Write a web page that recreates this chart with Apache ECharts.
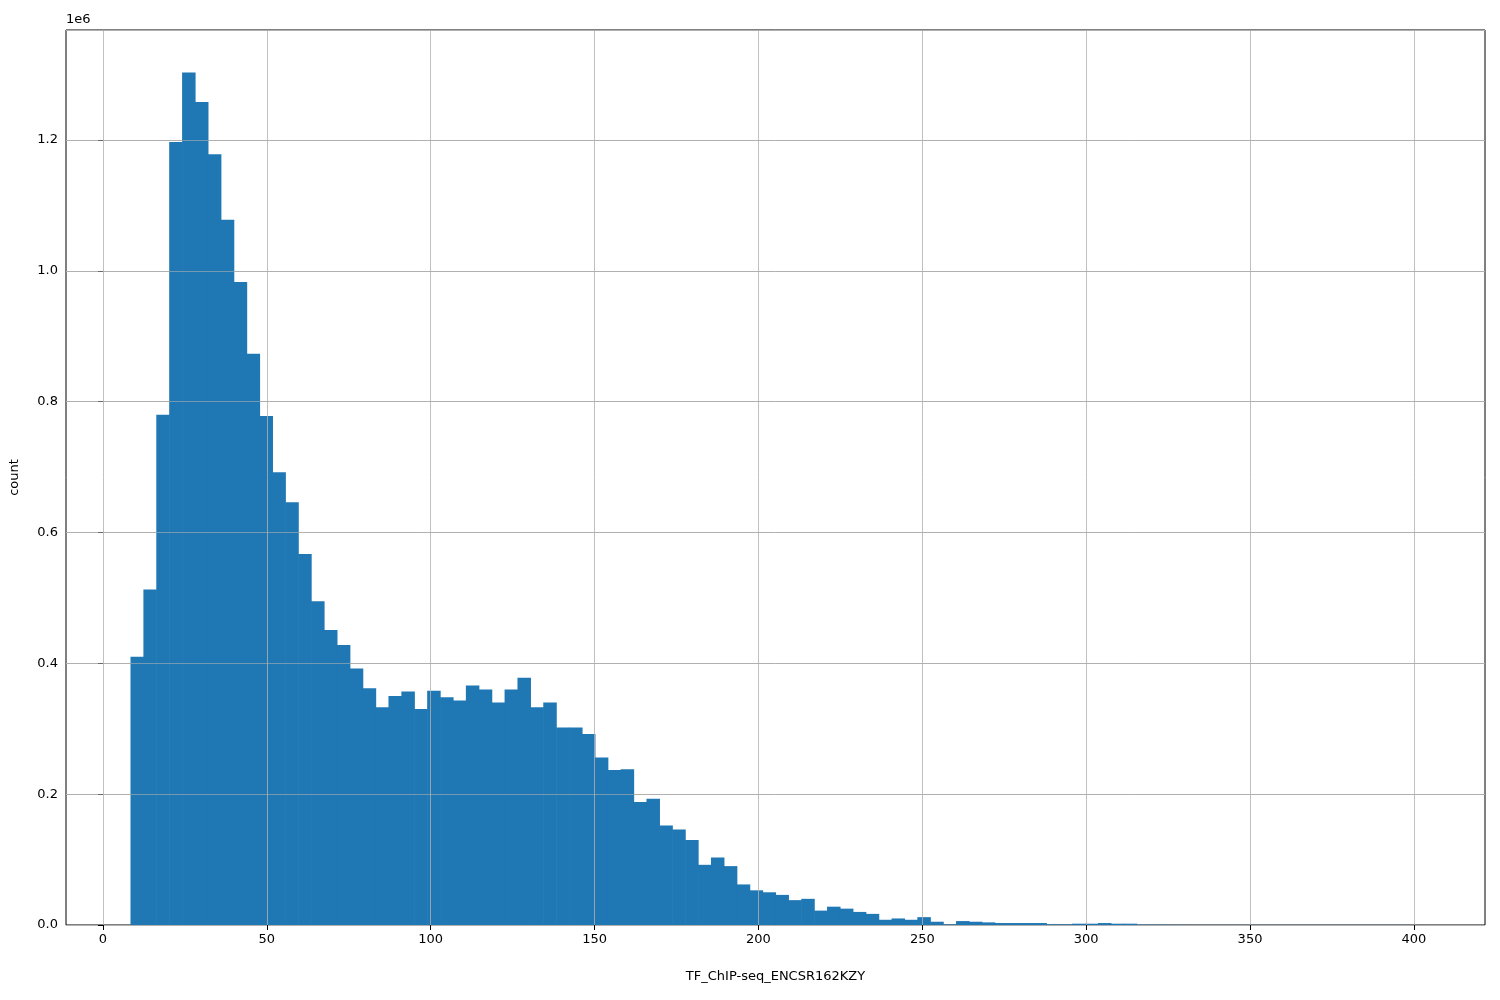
<!DOCTYPE html>
<html><head><meta charset="utf-8">
<script src="https://cdn.jsdelivr.net/npm/echarts@6/dist/echarts.min.js"></script>
<style>html,body{margin:0;padding:0;background:#fff}#c{width:1500px;height:1000px}</style>
</head><body><div id="c"></div>
<script>
const binStart = 8.39;
const binWidth = 3.936;
const counts = [0.41,0.513,0.78,1.197,1.303,1.258,1.178,1.078,0.983,0.873,
0.778,0.692,0.646,0.567,0.495,0.451,0.428,0.392,0.362,0.333,
0.350,0.357,0.330,0.358,0.348,0.343,0.366,0.360,0.340,0.360,
0.378,0.333,0.340,0.302,0.302,0.292,0.256,0.237,0.238,0.188,
0.193,0.152,0.146,0.130,0.092,0.103,0.090,0.062,0.053,0.050,
0.046,0.038,0.040,0.022,0.028,0.025,0.020,0.017,0.008,0.010,
0.008,0.012,0.005,0.001,0.006,0.005,0.004,0.003,0.003,0.003,
0.003,0.001,0.001,0.002,0.002,0.003,0.002,0.002,0.0005,0.0005,
0.0003,0.0003,0.0002,0.0002,0.0002,0.0001,0.0001,0.0001,0.0001,0.0001,
0.0001,0.0001,0.0001,0.0001,0.0001,0.0001,0.0001,0.0001,0.0001,0.0001];
const xTicks = [0,50,100,150,200,250,300,350,400];
const data = counts.map((c,i)=>[binStart+i*binWidth, binStart+(i+1)*binWidth, c*1e6]);
const chart = echarts.init(document.getElementById('c'));
const font = 'DejaVu Sans';
chart.setOption({
  animation:false,
  textStyle:{fontFamily:font},
  grid:{left:66,right:15,top:30,bottom:75,show:true,borderColor:'#000',borderWidth:1,containLabel:false},
  graphic:[{type:'text',left:66,top:13,style:{text:'1e6',fontSize:13,fontFamily:font,fill:'#000'}}],
  xAxis:{type:'value',min:-11.29,max:421.7,
    name:'TF_ChIP-seq_ENCSR162KZY',nameLocation:'middle',nameGap:45,nameTextStyle:{fontSize:13,color:'#000'},
    axisLine:{show:false},splitLine:{show:false},
    axisTick:{show:true,customValues:xTicks,length:5,lineStyle:{color:'#000'}},
    axisLabel:{customValues:xTicks,fontSize:13,color:'#000',margin:8}},
  yAxis:{type:'value',min:0,max:1.368e6,interval:2e5,
    name:'count',nameLocation:'middle',nameGap:45,nameTextStyle:{fontSize:13,color:'#000'},
    axisLine:{show:false},axisTick:{show:true,length:5,lineStyle:{color:'#000'}},
    axisLabel:{fontSize:13,color:'#000',showMaxLabel:false,formatter:v=>v>1.3e6?'':(v/1e6).toFixed(1)},
    splitLine:{show:true,lineStyle:{color:'#b0b0b0',width:1}}},
  series:[{type:'custom',data:data,encode:{x:[0,1],y:2},z:2,
    renderItem:(params,api)=>{
      const p0=api.coord([api.value(0),api.value(2)]);
      const p1=api.coord([api.value(1),0]);
      return {type:'rect',shape:{x:p0[0],y:p0[1],width:p1[0]-p0[0]+0.6,height:p1[1]-p0[1]},style:{fill:'#1f77b4'}};
    },
    markLine:{silent:true,symbol:'none',z:5,label:{show:false},
      lineStyle:{color:'#b0b0b0',width:1,type:'solid',opacity:0.8},
      data:xTicks.map(v=>({xAxis:v}))}
  },
  {type:'line',data:[],markLine:{silent:true,symbol:'none',z:5,label:{show:false},
      lineStyle:{color:'#b0b0b0',width:1,type:'solid',opacity:0.6},
      data:[2e5,4e5,6e5,8e5,1e6,1.2e6].map(v=>({yAxis:v}))}}]
});
</script></body></html>
